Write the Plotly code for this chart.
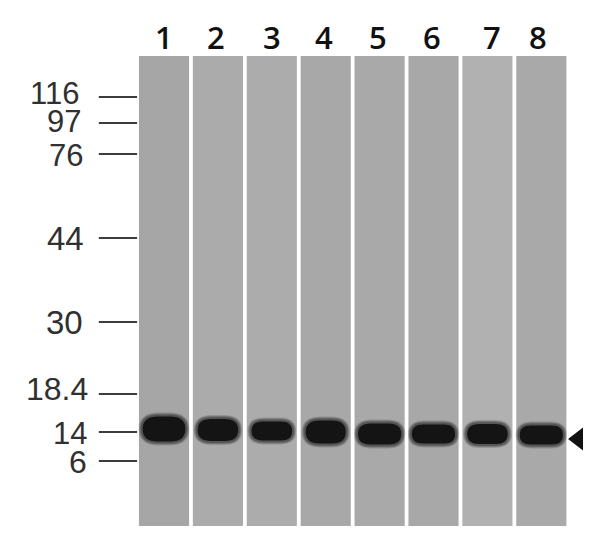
import plotly.graph_objects as go

# lanes on the blot
lanes = [1, 2, 3, 4, 5, 6, 7, 8]
lane_labels = ["1", "2", "3", "4", "5", "6", "7", "8"]
lane_shade = [166, 171, 172, 168, 169, 168, 177, 169]

# molecular weight ladder (kDa) and its migration distance
marker_kda = ["116", "97", "76", "44", "30", "18.4", "14", "6"]
marker_migration = [97, 123, 154, 238, 322, 394, 432, 461]

# detected band per lane
band_migration = [429, 430, 431, 432, 434, 434, 434, 435]
band_thickness = [27, 24, 21, 25, 23, 21, 22, 21]
band_width = [0.83, 0.79, 0.79, 0.78, 0.84, 0.84, 0.79, 0.84]

GEL_TOP, GEL_BOTTOM = 56, 526
LANE_W = 0.465
PX = 53.9  # pixels per lane step, for rounding the band ends
OFF = 8    # page body margin

fig = go.Figure()
shapes = []
for i, shade in zip(lanes, lane_shade):
    c = f"rgb({shade},{shade},{shade})"
    shapes.append(dict(type="rect", xref="x", yref="y", x0=i - LANE_W, x1=i + LANE_W,
                       y0=GEL_TOP, y1=GEL_BOTTOM, fillcolor=c, line_width=0, layer="below"))


def band_path(xc, yc, w, h):
    x0, x1 = xc - w / 2, xc + w / 2
    y0, y1 = yc - h / 2, yc + h / 2
    r = h * 0.6 / PX
    return (f"M {x0 + r},{y0} L {x1 - r},{y0} Q {x1},{y0} {x1},{yc} "
            f"Q {x1},{y1} {x1 - r},{y1} L {x0 + r},{y1} Q {x0},{y1} {x0},{yc} "
            f"Q {x0},{y0} {x0 + r},{y0} Z")


for i, ym, h, w in zip(lanes, band_migration, band_thickness, band_width):
    # blurred edge built from a few faint layers, then the dense core
    for grow, alpha in [(6, 0.18), (4, 0.25), (2, 0.35)]:
        shapes.append(dict(type="path", xref="x", yref="y",
                           path=band_path(i, ym, w + grow / PX, h + grow),
                           fillcolor=f"rgba(30,30,30,{alpha})", line_width=0))
    shapes.append(dict(type="path", xref="x", yref="y", path=band_path(i, ym, w - 2 / PX, h - 2),
                       fillcolor="#141414", line_width=0))

for ym in marker_migration:
    shapes.append(dict(type="line", xref="x", yref="y", x0=-0.21, x1=0.5, y0=ym, y1=ym,
                       line=dict(color="#3c3c3c", width=2.2)))

# the scanned ladder labels are not all the same size or exactly on their ticks
lab_size = [31, 31, 31, 33, 33, 32, 31, 32]
lab_dy = [-4, -2, 1, 0, 0, -5, 1, 1]
lab_dx = [-0.07, -0.03, 0.01, 0.03, 0.01, 0.1, 0.08, 0.08]
annotations = []
for lab, ym, s, dy, dx in zip(marker_kda, marker_migration, lab_size, lab_dy, lab_dx):
    annotations.append(dict(x=-0.47 + dx, y=ym + dy, xref="x", yref="y", text=lab,
                            showarrow=False, xanchor="right", yanchor="middle",
                            font=dict(family="Liberation Sans", size=s, color="#303030")))

label_offset = [0, -0.03, 0, -0.03, -0.03, -0.03, 0.09, -0.07]
for i, lab, off in zip(lanes, lane_labels, label_offset):
    annotations.append(dict(x=i + off, y=37, xref="x", yref="y", text=lab, showarrow=False,
                            xanchor="center", yanchor="middle",
                            font=dict(family="Open Sans", size=31, color="#111111", weight=600)))

# arrowhead marking the band of interest
fig.add_trace(go.Scatter(x=[lanes[-1] + 0.7], y=[band_migration[-1] + 4], mode="markers",
                         marker=dict(symbol="triangle-left", size=22, color="#111111"),
                         hoverinfo="skip", showlegend=False))

x0 = -2.043 + OFF / PX
fig.update_layout(
    width=591 - OFF, height=542 - OFF, margin=dict(l=0, r=0, t=0, b=0),
    paper_bgcolor="white", plot_bgcolor="white",
    shapes=shapes, annotations=annotations, showlegend=False,
    xaxis=dict(range=[x0, x0 + (591 - OFF) / PX], visible=False, fixedrange=True),
    yaxis=dict(range=[542, OFF], visible=False, fixedrange=True),
)

fig.write_html("out.html")
